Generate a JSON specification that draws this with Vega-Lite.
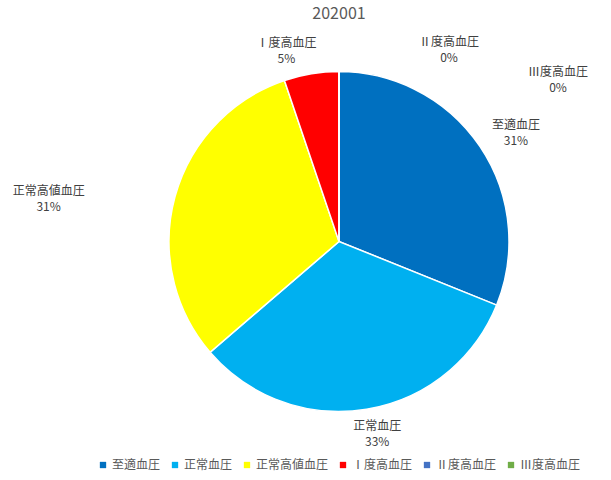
{
  "$schema": "https://vega.github.io/schema/vega-lite/v6.json",
  "width": 544,
  "height": 403,
  "autosize": "none",
  "padding": {"left": 67, "top": 40, "right": 0, "bottom": 37},
  "title": {"text": "202001", "fontSize": 16, "fontWeight": "normal", "color": "#595959", "font": "Noto Sans CJK JP", "offset": 14},
  "data": {
    "values": [
      {"no": 1, "category": "至適血圧", "value": 31.1},
      {"no": 2, "category": "正常血圧", "value": 32.6},
      {"no": 3, "category": "正常高値血圧", "value": 31.1},
      {"no": 4, "category": "Ⅰ度高血圧", "value": 5.2},
      {"no": 5, "category": "Ⅱ度高血圧", "value": 0},
      {"no": 6, "category": "Ⅲ度高血圧", "value": 0}
    ]
  },
  "transform": [
    {"stack": "value", "groupby": [], "sort": [{"field": "no"}], "as": ["v0", "v1"]},
    {"calculate": "(datum.v0 + datum.v1) / 2", "as": "mid"},
    {"calculate": "[datum.category, format(datum.value / 100, '.0%')]", "as": "label"}
  ],
  "layer": [
    {
      "mark": {"type": "arc", "outerRadius": 170, "stroke": "white", "strokeWidth": 1.5},
      "encoding": {
        "theta": {"field": "v0", "type": "quantitative", "scale": {"domain": [0, 100]}},
        "theta2": {"field": "v1"},
        "color": {
          "field": "category", "type": "nominal",
          "scale": {
            "domain": ["至適血圧", "正常血圧", "正常高値血圧", "Ⅰ度高血圧", "Ⅱ度高血圧", "Ⅲ度高血圧"],
            "range": ["#0070C0", "#00B0F0", "#FFFF00", "#FF0000", "#4472C4", "#70AD47"]
          },
          "legend": {
            "title": null, "orient": "none", "direction": "horizontal", "columns": 6,
            "legendX": 30, "legendY": 419,
            "symbolType": "square", "symbolSize": 40, "symbolStrokeWidth": 0,
            "labelFont": "Noto Sans CJK JP", "labelFontSize": 12, "labelColor": "#595959",
            "labelOffset": 3, "columnPadding": 8
          }
        }
      }
    },
    {
      "transform": [{"filter": "datum.no == 1"}],
      "mark": {"type": "text", "radius": 205, "dx": 7, "dy": -2, "font": "Noto Sans CJK JP", "fontSize": 12, "color": "#404040", "lineHeight": 16},
      "encoding": {"theta": {"field": "mid", "type": "quantitative"}, "text": {"field": "label"}}
    },
    {
      "transform": [{"filter": "datum.no == 2"}],
      "mark": {"type": "text", "radius": 192, "dx": 7, "dy": -5, "font": "Noto Sans CJK JP", "fontSize": 12, "color": "#404040", "lineHeight": 16},
      "encoding": {"theta": {"field": "mid", "type": "quantitative"}, "text": {"field": "label"}}
    },
    {
      "transform": [{"filter": "datum.no == 3"}],
      "mark": {"type": "text", "radius": 300, "dx": -1, "dy": 29, "font": "Noto Sans CJK JP", "fontSize": 12, "color": "#404040", "lineHeight": 16},
      "encoding": {"theta": {"field": "mid", "type": "quantitative"}, "text": {"field": "label"}}
    },
    {
      "transform": [{"filter": "datum.no == 4"}],
      "mark": {"type": "text", "radius": 194, "dx": -21, "dy": -7, "font": "Noto Sans CJK JP", "fontSize": 12, "color": "#404040", "lineHeight": 16},
      "encoding": {"theta": {"field": "mid", "type": "quantitative"}, "text": {"field": "label"}}
    },
    {
      "transform": [{"filter": "datum.no == 5"}],
      "mark": {"type": "text", "radius": 194, "dx": 110, "dy": -6, "font": "Noto Sans CJK JP", "fontSize": 12, "color": "#404040", "lineHeight": 16},
      "encoding": {"theta": {"field": "mid", "type": "quantitative"}, "text": {"field": "label"}}
    },
    {
      "transform": [{"filter": "datum.no == 6"}],
      "mark": {"type": "text", "radius": 194, "dx": 219, "dy": 24, "font": "Noto Sans CJK JP", "fontSize": 12, "color": "#404040", "lineHeight": 16},
      "encoding": {"theta": {"field": "mid", "type": "quantitative"}, "text": {"field": "label"}}
    }
  ],
  "config": {"view": {"stroke": null}}
}
